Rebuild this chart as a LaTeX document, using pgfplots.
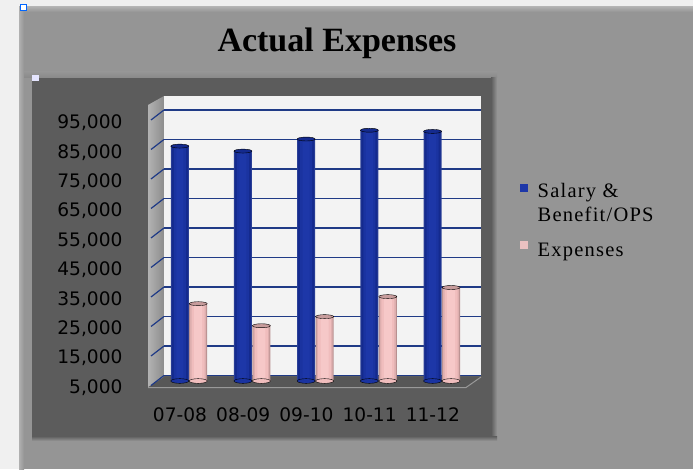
\documentclass[border=0pt]{standalone}
\usepackage{fontspec}
\usepackage{pgfplots}
\usepackage{pgfplotstable}
\pgfplotsset{compat=1.18}
\setmainfont{Liberation Serif}
\newfontfamily\ticksfont{DejaVu Sans}
\newfontfamily\legendfont[LetterSpace=6]{Liberation Serif}
\definecolor{pagebg}{HTML}{F0F0F0}
\definecolor{panel}{HTML}{959595}
\definecolor{inner}{HTML}{5C5C5C}
\definecolor{wall}{HTML}{F3F3F3}
\definecolor{gridblue}{HTML}{1F3A86}
\definecolor{blueA}{HTML}{2A3F96}
\definecolor{blueB}{HTML}{142A8E}
\definecolor{blueC}{HTML}{1A33A0}
\definecolor{blueD}{HTML}{1D37A8}
\definecolor{pinkA}{HTML}{B89090}
\definecolor{pinkB}{HTML}{DDAEAE}
\definecolor{pinkC}{HTML}{F0BDBD}
\definecolor{pinkD}{HTML}{F6C8C8}

\pgfplotstableread{
x    y
0.00 84900
1.00 83200
2.00 87300
3.00 90300
4.00 89900
}\salary
\pgfplotstableread{
x    y
0.00 31300
1.00 23800
2.00 26900
3.00 33700
4.00 36800
}\expenses
\pgfplotstableread{
x base
0.00 5000
1.00 5000
2.00 5000
3.00 5000
4.00 5000
}\floorline

\begin{document}
\begin{tikzpicture}
% page and panels, measured from the top left corner
\begin{scope}[shift={(0pt,469pt)},x=1pt,y=-1pt]
  \fill[pagebg] (0,0) rectangle (693,469);
  \fill[panel] (20,8) rectangle (693,469);
  \shade[top color=panel!70!pagebg,bottom color=panel] (20,7) rectangle (693,12);
  \shade[left color=panel!70!pagebg,right color=panel] (19,7) rectangle (24,469);
  \shade[top color=panel,bottom color=panel!92!black] (24,72) rectangle (497,78);
  \shade[left color=inner,right color=panel] (491,78) rectangle (497,437);
  \shade[top color=inner,bottom color=panel] (32,436) rectangle (497,441);
  \fill[inner] (32,78) rectangle (492,437);
  % selection handles
  \fill[white] (20.5,5) rectangle (26.5,10.5);
  \draw[blue!60!cyan,line width=1pt] (20.5,5) rectangle (26.5,10.5);
  \fill[blue!10!white] (32,75) rectangle (39,81);
  % walls and floor of the 3-D box
  \shade[left color=black!30,right color=black!45] (148,105) -- (164,96) -- (164,377) -- (148,387) -- cycle;
  \fill[inner!95!black] (150,387) -- (164,377) -- (481,377) -- (466,387) -- cycle;
  \draw[black!40,line width=1pt] (148,387.5) -- (466,387.5) -- (481,377);
  \foreach \yy in {110,139.5,...,376}{
    \draw[gridblue,line width=1.2pt] (151,\yy+10) -- (164,\yy);
  }
\end{scope}

% back wall with its gridlines
\begin{axis}[
  at={(164pt,93.5pt)}, anchor=south west,
  scale only axis, width=317pt, height=279.5pt,
  xmin=0, xmax=5, ymin=5000, ymax=99746,
  axis background/.style={fill=wall},
  axis line style={draw=none},
  xtick=\empty,
  ytick={5000,15000,...,95000}, yticklabels={},
  scaled y ticks=false,
  major tick length=0pt,
  ymajorgrids,
  grid style={gridblue,line width=1.6pt},
]
\end{axis}

% columns, tick labels and legend
\begin{axis}[
  at={(150pt,88pt)}, anchor=south west,
  scale only axis, width=331pt, height=285pt,
  xmin=-0.617, xmax=4.62, ymin=5000, ymax=101939,
  axis line style={draw=none},
  clip=false,
  major tick length=0pt,
  xtick={0,1,2,3,4},
  xticklabels={07-08,08-09,09-10,10-11,11-12},
  ytick={5000,15000,...,95000},
  scaled y ticks=false,
  /pgf/number format/.cd, 1000 sep={,}, assume math mode=true,
  /pgfplots/.cd,
  tick label style={font=\ticksfont\fontsize{18.6}{20}\selectfont,text=black},
  xticklabel style={xshift=-9pt,yshift=-23pt},
  yticklabel style={xshift=-24pt,yshift=-6.5pt},
  legend style={
    at={(axis description cs:1.118,0.703)}, anchor=north west,
    draw=none, fill=none, inner sep=0pt,
    font=\legendfont\fontsize{20.5}{24}\selectfont,
    cells={anchor=west,align=left},
    row sep=17pt,
  },
]
% bottom discs
\addplot[only marks,mark=*,mark size=9pt,mark options={yscale=0.26,draw=none,fill=blueC},forget plot]
  table[x expr=\thisrow{x}-0.146,y=base]{\floorline};
\addplot[only marks,mark=*,mark size=9pt,mark options={yscale=0.26,draw=none,fill=pinkC},forget plot]
  table[x expr=\thisrow{x}+0.146,y=base]{\floorline};
% column bodies, layered from the dark rim to the bright middle
\addplot[ybar,bar width=18pt,bar shift=0pt,draw=none,fill=blueA,forget plot] table[x expr=\thisrow{x}-0.146,y=y]{\salary};
\addplot[ybar,bar width=16pt,bar shift=0pt,draw=none,fill=blueB,forget plot] table[x expr=\thisrow{x}-0.146,y=y]{\salary};
\addplot[ybar,bar width=12pt,bar shift=0pt,draw=none,fill=blueC,forget plot] table[x expr=\thisrow{x}-0.146,y=y]{\salary};
\addplot[ybar,bar width=7pt,bar shift=0pt,draw=none,fill=blueD,forget plot] table[x expr=\thisrow{x}-0.146,y=y]{\salary};
\addplot[ybar,bar width=18pt,bar shift=0pt,draw=none,fill=pinkA,forget plot] table[x expr=\thisrow{x}+0.146,y=y]{\expenses};
\addplot[ybar,bar width=16pt,bar shift=0pt,draw=none,fill=pinkB,forget plot] table[x expr=\thisrow{x}+0.146,y=y]{\expenses};
\addplot[ybar,bar width=13pt,bar shift=0pt,draw=none,fill=pinkC,forget plot] table[x expr=\thisrow{x}+0.146,y=y]{\expenses};
\addplot[ybar,bar width=8pt,bar shift=0pt,draw=none,fill=pinkD,forget plot] table[x expr=\thisrow{x}+0.146,y=y]{\expenses};
% column tops
\addplot[only marks,mark=*,mark size=9pt,mark options={yscale=0.22,draw=none,fill=blueB},forget plot]
  table[x expr=\thisrow{x}-0.146,y=y]{\salary};
\addplot[only marks,mark=*,mark size=9pt,mark options={yscale=0.22,draw=none,fill=pinkA!60!pinkB},forget plot]
  table[x expr=\thisrow{x}+0.146,y=y]{\expenses};
% legend keys: a fixed-width cell, with the square at its left edge
\addlegendimage{legend image code/.code={\path (0pt,0pt) (15pt,0pt); \fill[blueD,overlay] (0pt,12pt) rectangle ++(7pt,7pt);}}
\addlegendentry{Salary \&\\Benefit/OPS}
\addlegendimage{legend image code/.code={\path (0pt,0pt) (15pt,0pt); \fill[pinkD!90!gray,overlay] (0pt,3pt) rectangle ++(7pt,7pt);}}
\addlegendentry{Expenses}
\end{axis}

\node[font=\fontsize{34}{38}\selectfont\bfseries,text=black] at (337pt,426pt) {Actual Expenses};
\end{tikzpicture}
\end{document}
